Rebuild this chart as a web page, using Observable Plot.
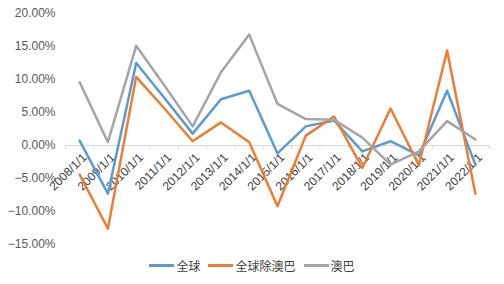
<!DOCTYPE html>
<html>
<head>
<meta charset="utf-8">
<script src="https://cdn.jsdelivr.net/npm/d3@7"></script>
<script src="https://cdn.jsdelivr.net/npm/@observablehq/plot@0.6"></script>
<style>
  html, body { margin: 0; padding: 0; background: #fff; }
  body { width: 504px; height: 284px; overflow: hidden; font-family: "Liberation Sans", "Noto Sans CJK SC", sans-serif; }
  #legend { display: flex; justify-content: center; align-items: center; gap: 8px; height: 30px; font-size: 12px; color: #404040; font-family: "Noto Sans CJK SC", "Liberation Sans", sans-serif; margin-top: -4px; }
  .item { display: flex; align-items: center; gap: 2px; }
  .swatch { width: 25px; height: 3px; display: inline-block; }
</style>
</head>
<body>
<div id="chart"></div>
<div id="legend"></div>
<script>
const categories = ["2008/1/1","2009/1/1","2010/1/1","2011/1/1","2012/1/1","2013/1/1","2014/1/1","2015/1/1","2016/1/1","2017/1/1","2018/1/1","2019/1/1","2020/1/1","2021/1/1","2022/1/1"];
const seriesNames = ["全球", "全球除澳巴", "澳巴"];
const globalVals   = [0.0075, -0.073, 0.125, 0.072, 0.018, 0.070, 0.083, -0.012, 0.029, 0.038, -0.009, 0.0065, -0.015, 0.083, -0.029];
const exAusBraVals = [-0.044, -0.126, 0.104, 0.056, 0.0065, 0.035, 0.005, -0.092, 0.015, 0.044, -0.034, 0.056, -0.030, 0.144, -0.073];
const ausBraVals   = [0.096, 0.005, 0.151, 0.091, 0.029, 0.111, 0.168, 0.063, 0.040, 0.039, 0.012, -0.029, -0.009, 0.037, 0.009];
const yTicks = [-0.15, -0.10, -0.05, 0, 0.05, 0.10, 0.15, 0.20];
const colors = ["#5B9BD5", "#ED7D31", "#A5A5A5"];

const allSeries = [globalVals, exAusBraVals, ausBraVals];
const data = [];
allSeries.forEach((vals, s) => vals.forEach((v, i) => data.push({series: seriesNames[s], i, v})));
const boundaries = d3.range(categories.length + 1).map(i => i - 0.5);
const catData = categories.map((c, i) => ({c, i}));

const chart = Plot.plot({
  width: 504,
  height: 254,
  marginTop: 13,
  marginBottom: 10,
  marginLeft: 65,
  marginRight: 15,
  style: {fontFamily: "Liberation Sans, Noto Sans CJK SC, sans-serif", fontSize: "12px", color: "#595959", background: "#fff"},
  x: {domain: [-0.5, categories.length - 0.5], axis: null},
  y: {domain: [-0.15, 0.20], ticks: yTicks, tickFormat: d3.format(".2%"), tickSize: 0, tickPadding: 10, label: null},
  color: {domain: seriesNames, range: colors},
  marks: [
    Plot.ruleY([0], {stroke: "#d9d9d9", strokeWidth: 1}),
    Plot.ruleX(boundaries, {x: d => d, y1: 0, y2: -0.006, stroke: "#d9d9d9"}),
    Plot.text(catData, {x: "i", y: () => 0, text: "c", rotate: -45, textAnchor: "end", dx: 5, dy: 10, fontSize: 12, fill: "#404040"}),
    Plot.line(data, {x: "i", y: "v", z: "series", stroke: "series", strokeWidth: 2.5, strokeLinejoin: "round", strokeLinecap: "round"})
  ]
});
document.getElementById("chart").appendChild(chart);

const legend = document.getElementById("legend");
seriesNames.forEach((name, s) => {
  const item = document.createElement("div");
  item.className = "item";
  const sw = document.createElement("span");
  sw.className = "swatch";
  sw.style.background = colors[s];
  const t = document.createElement("span");
  t.textContent = name;
  item.appendChild(sw);
  item.appendChild(t);
  legend.appendChild(item);
});
</script>
</body>
</html>
